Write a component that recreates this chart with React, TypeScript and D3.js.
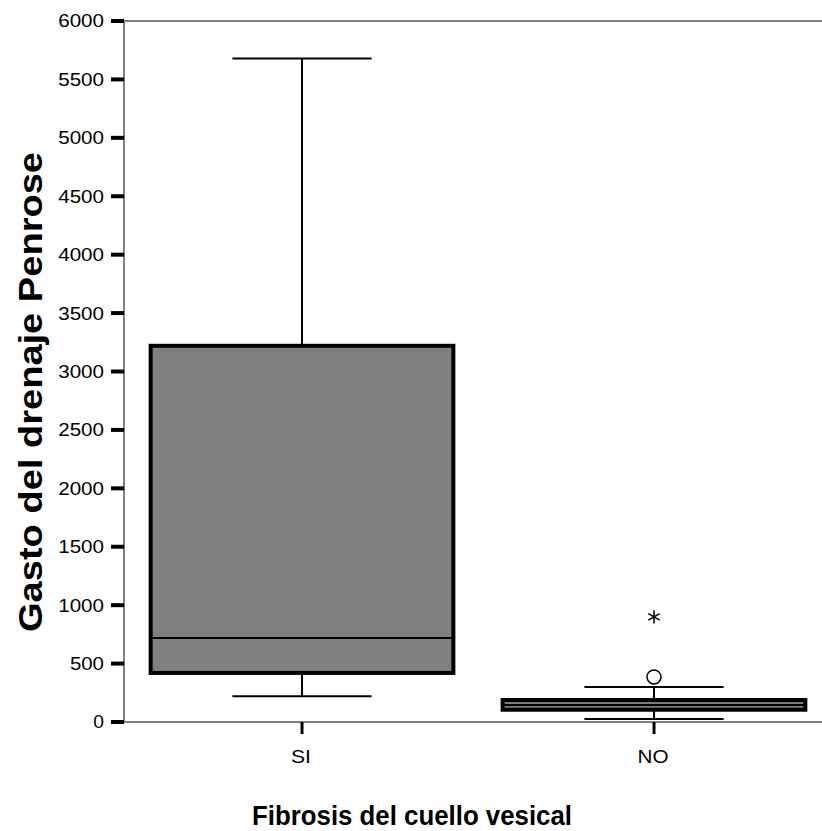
import React from "react";
import * as d3 from "d3";

const categories = ["SI", "NO"];
const whiskerLow = [220, 25];
const q1 = [420, 105];
const median = [720, 145];
const q3 = [3220, 188];
const whiskerHigh = [5680, 300];
const outlierCats = ["NO"];
const outlierValues = [385];
const extremeCats = ["NO"];
const extremeValues = [900];
const yTicks = [0, 500, 1000, 1500, 2000, 2500, 3000, 3500, 4000, 4500, 5000, 5500, 6000];

const W = 822;
const H = 831;

export default function App() {
  const y = d3.scaleLinear().domain([0, 6000]).range([722, 21]);
  const x = d3.scaleBand().domain(categories).range([126, 830]).paddingInner(0).paddingOuter(0);
  const bw = x.bandwidth();
  const boxW = bw * 0.86;
  const capHalf = boxW * 0.23;
  const cx = (c: string) => (x(c) as number) + bw / 2;
  const font = "'Liberation Sans', Arial, sans-serif";
  const star = d3.symbol().type(d3.symbolAsterisk).size(120)() as string;

  return (
    <div style={{ position: "absolute", left: 0, top: 0 }}>
      <svg width={W} height={H} style={{ display: "block", background: "#fff" }}>
        {/* frame lines */}
        <line x1={124} x2={W} y1={y(6000)} y2={y(6000)} stroke="#808080" strokeWidth={2} />
        <line x1={124} x2={W} y1={y(0)} y2={y(0)} stroke="#808080" strokeWidth={2} />
        <line x1={124} x2={124} y1={y(6000) - 1} y2={y(0) + 1} stroke="#808080" strokeWidth={2} />
        {/* y ticks */}
        {yTicks.map((t) => (
          <g key={t}>
            <line x1={111} x2={124} y1={y(t)} y2={y(t)} stroke="#000" strokeWidth={4} />
            <text
              x={104}
              y={y(t)}
              dy="0.36em"
              textAnchor="end"
              fontFamily={font}
              fontSize={18}
              textLength={String(t).length * 11.7 - 1}
              lengthAdjust="spacingAndGlyphs"
              fill="#000"
            >
              {t}
            </text>
          </g>
        ))}
        {/* x ticks */}
        {categories.map((c) => (
          <g key={c}>
            <line x1={cx(c)} x2={cx(c)} y1={y(0)} y2={y(0) + 12} stroke="#000" strokeWidth={3} />
            <text
              x={cx(c) - 1}
              y={763}
              textAnchor="middle"
              fontFamily={font}
              fontSize={19}
              textLength={c === "SI" ? 20 : 31}
              lengthAdjust="spacingAndGlyphs"
              fill="#000"
            >
              {c}
            </text>
          </g>
        ))}
        {/* boxes */}
        {categories.map((c, i) => {
          const m = cx(c);
          return (
            <g key={c}>
              <line x1={m} x2={m} y1={y(whiskerHigh[i])} y2={y(q3[i])} stroke="#000" strokeWidth={2} />
              <line x1={m} x2={m} y1={y(q1[i])} y2={y(whiskerLow[i])} stroke="#000" strokeWidth={2} />
              <line x1={m - capHalf} x2={m + capHalf} y1={y(whiskerHigh[i])} y2={y(whiskerHigh[i])} stroke="#000" strokeWidth={2} />
              <line x1={m - capHalf} x2={m + capHalf} y1={y(whiskerLow[i])} y2={y(whiskerLow[i])} stroke="#000" strokeWidth={2} />
              <rect
                x={m - boxW / 2}
                y={y(q3[i])}
                width={boxW}
                height={y(q1[i]) - y(q3[i])}
                fill="#808080"
                stroke="#000"
                strokeWidth={4}
              />
              <line x1={m - boxW / 2} x2={m + boxW / 2} y1={y(median[i])} y2={y(median[i])} stroke="#000" strokeWidth={2} />
            </g>
          );
        })}
        {/* outliers */}
        {outlierCats.map((c, i) => (
          <circle key={"o" + i} cx={cx(c)} cy={y(outlierValues[i])} r={7} fill="#fff" stroke="#000" strokeWidth={1.5} />
        ))}
        {extremeCats.map((c, i) => (
          <path
            key={"e" + i}
            d={star}
            transform={`translate(${cx(c)},${y(extremeValues[i])})`}
            fill="none"
            stroke="#000"
            strokeWidth={1.5}
          />
        ))}
        {/* axis titles */}
        <text
          transform={`translate(42,392) rotate(-90)`}
          textAnchor="middle"
          fontFamily={font}
          fontWeight="bold"
          fontSize={34}
          textLength={480}
          lengthAdjust="spacingAndGlyphs"
          fill="#000"
        >
          Gasto del drenaje Penrose
        </text>
        <text
          x={412}
          y={825}
          textAnchor="middle"
          fontFamily={font}
          fontWeight="bold"
          fontSize={28}
          textLength={320}
          lengthAdjust="spacingAndGlyphs"
          fill="#000"
        >
          Fibrosis del cuello vesical
        </text>
      </svg>
    </div>
  );
}
